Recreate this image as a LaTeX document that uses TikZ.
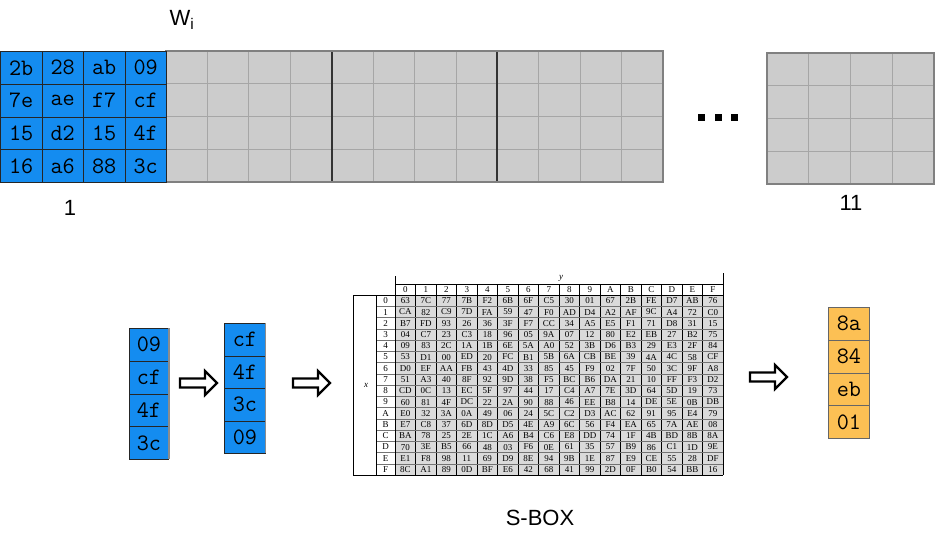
\documentclass[tikz,border=0pt]{standalone}
\usepackage{fontspec}
\setmainfont{Liberation Serif}
\newfontfamily\labfont{Liberation Sans}
\definecolor{cellblue}{RGB}{20,140,240}
\definecolor{cellorange}{RGB}{252,192,84}
\definecolor{gridgray}{RGB}{204,204,204}
\definecolor{sboxgray}{RGB}{218,218,218}
\tikzset{
  hexcell/.style={draw=black!85, line width=0.8pt, inner sep=0pt, anchor=north west,
    font=\ttfamily\fontsize{23.5}{23.5}\selectfont},
  bluecell/.style={hexcell, fill=cellblue, minimum width=41.5pt, minimum height=32.75pt},
  colcell/.style={hexcell, fill=cellblue, minimum width=#1, minimum height=32.75pt},
  orangecell/.style={hexcell, draw=black!60, fill=cellorange, minimum width=41pt, minimum height=32.75pt},
  thingrid/.style={draw=black!35, line width=0.8pt},
  blockdiv/.style={draw=black!80, line width=1.5pt},
  blockframe/.style={draw=black!50, line width=2pt},
  arrowline/.style={draw=black, fill=white, line width=2.2pt, line join=miter},
  biglabel/.style={font=\labfont\fontsize{22}{22}\selectfont, inner sep=0pt},
  sboxtxt/.style={font=\fontsize{9}{9}\selectfont, inner sep=0pt},
  sboxline/.style={draw=black, line width=0.5pt}
}
\newcommand\blkarrow[2]{%
  \draw[arrowline] (#1,#2) ++(0,-4.5) -- ++(25,0) -- ++(0,-7.5) -- ++(12,12)
    -- ++(-12,12) -- ++(0,-7.5) -- ++(-25,0) -- cycle;}
\begin{document}
\begin{tikzpicture}[x=1pt,y=-1pt]
\useasboundingbox (0,0) rectangle (935,538);
\fill[white] (0,0) rectangle (935,538);

% ---------- top strip ----------
\fill[gridgray] (166,51) rectangle (663,182);
\foreach \k in {1,...,11} {\draw[thingrid] ({166+41.42*\k},51) -- ({166+41.42*\k},182);}
\foreach \k in {1,2,3} {\draw[thingrid] (166,{51+32.75*\k}) -- (663,{51+32.75*\k});}
\draw[blockdiv] (332,51) -- (332,182);
\draw[blockdiv] (497,51) -- (497,182);
\draw[blockframe] (166,51) rectangle (663,182);

\foreach \rowvals [count=\ri from 0] in {{2b,28,ab,09},{7e,ae,f7,cf},{15,d2,15,4f},{16,a6,88,3c}} {
  \foreach \v [count=\ci from 0] in \rowvals {
    \node[bluecell] (w-\ri-\ci) at ({41.5*\ci},{51+32.75*\ri}) {\v};
  }
}
\node[biglabel] (wlab) at (182,20) {W\textsubscript{i}};
\node[biglabel] (one) at (70,208) {1};

% dots
\foreach \dx [count=\di] in {701.5,718,734} {
  \fill[black] (\dx-3.5,114) rectangle (\dx+3.5,121);
}

% right block
\fill[gridgray] (767,53) rectangle (934,184);
\foreach \k in {1,2,3} {\draw[thingrid] ({767+41.75*\k},53) -- ({767+41.75*\k},184);}
\foreach \k in {1,2,3} {\draw[thingrid] (767,{53+32.75*\k}) -- (934,{53+32.75*\k});}
\draw[blockframe] (767,53) rectangle (934,184);
\node[biglabel] (eleven) at (851,203) {11};

% ---------- bottom columns ----------
\foreach \v [count=\ri from 0] in {09,cf,4f,3c} {
  \node[colcell=39pt] (c1-\ri) at (129,{328+32.75*\ri}) {\v};
}
\draw[draw=black!45, line width=2pt] (169,328) -- (169,459);
\foreach \v [count=\ri from 0] in {cf,4f,3c,09} {
  \node[colcell=41pt] (c2-\ri) at (224,{323+32.5*\ri}) {\v};
}
\draw[draw=black!45, line width=1.5pt] (265.5,323) -- (265.5,453);
\foreach \v [count=\ri from 0] in {8a,84,eb,01} {
  \node[orangecell] (o-\ri) at (828,{307+32.75*\ri}) {\v};
}

\blkarrow{180}{383}
\blkarrow{293}{383}
\blkarrow{750}{377}

% ---------- S-box ----------
\fill[sboxgray] (395,295) rectangle (723,475);
\foreach \rowvals [count=\ri from 0] in {
 {63,7C,77,7B,F2,6B,6F,C5,30,01,67,2B,FE,D7,AB,76},
 {CA,82,C9,7D,FA,59,47,F0,AD,D4,A2,AF,9C,A4,72,C0},
 {B7,FD,93,26,36,3F,F7,CC,34,A5,E5,F1,71,D8,31,15},
 {04,C7,23,C3,18,96,05,9A,07,12,80,E2,EB,27,B2,75},
 {09,83,2C,1A,1B,6E,5A,A0,52,3B,D6,B3,29,E3,2F,84},
 {53,D1,00,ED,20,FC,B1,5B,6A,CB,BE,39,4A,4C,58,CF},
 {D0,EF,AA,FB,43,4D,33,85,45,F9,02,7F,50,3C,9F,A8},
 {51,A3,40,8F,92,9D,38,F5,BC,B6,DA,21,10,FF,F3,D2},
 {CD,0C,13,EC,5F,97,44,17,C4,A7,7E,3D,64,5D,19,73},
 {60,81,4F,DC,22,2A,90,88,46,EE,B8,14,DE,5E,0B,DB},
 {E0,32,3A,0A,49,06,24,5C,C2,D3,AC,62,91,95,E4,79},
 {E7,C8,37,6D,8D,D5,4E,A9,6C,56,F4,EA,65,7A,AE,08},
 {BA,78,25,2E,1C,A6,B4,C6,E8,DD,74,1F,4B,BD,8B,8A},
 {70,3E,B5,66,48,03,F6,0E,61,35,57,B9,86,C1,1D,9E},
 {E1,F8,98,11,69,D9,8E,94,9B,1E,87,E9,CE,55,28,DF},
 {8C,A1,89,0D,BF,E6,42,68,41,99,2D,0F,B0,54,BB,16}} {
  \foreach \v [count=\ci from 0] in \rowvals {
    \node[sboxtxt] (s-\ri-\ci) at ({405.25+20.5*\ci},{300.8+11.25*\ri}) {\v};
  }
}
\foreach \lab [count=\ci from 0] in {0,1,2,3,4,5,6,7,8,9,A,B,C,D,E,F} {
  \node[sboxtxt] (sh-\ci) at ({405.25+20.5*\ci},{290}) {\lab};
  \node[sboxtxt] (sr-\ci) at (385.5,{300.8+11.25*\ci}) {\lab};
}
% grid
\foreach \k in {1,...,15} {\draw[sboxline] ({395+20.5*\k},284) -- ({395+20.5*\k},475);}
\foreach \k in {1,...,15} {\draw[sboxline, draw=black!55] (376,{295+11.25*\k}) -- (723,{295+11.25*\k});}
\draw[sboxline] (395,276) -- (395,475);
\draw[sboxline] (723,273) -- (723,475);
\draw[sboxline] (395,284) -- (723,284);
\draw[sboxline, line width=1pt] (353,295) -- (723,295);
\draw[sboxline] (376,295) -- (376,475);
\draw[sboxline] (353,295) -- (353,475);
\draw[sboxline, line width=1pt] (353,475) -- (723,475);
\node[sboxtxt, font=\itshape\fontsize{9}{9}\selectfont] (ylab) at (561,278) {y};
\node[sboxtxt, font=\itshape\fontsize{9}{9}\selectfont] (xlab) at (366,385) {x};

\node[biglabel] (sboxlab) at (540,518) {S-BOX};
\end{tikzpicture}
\end{document}
